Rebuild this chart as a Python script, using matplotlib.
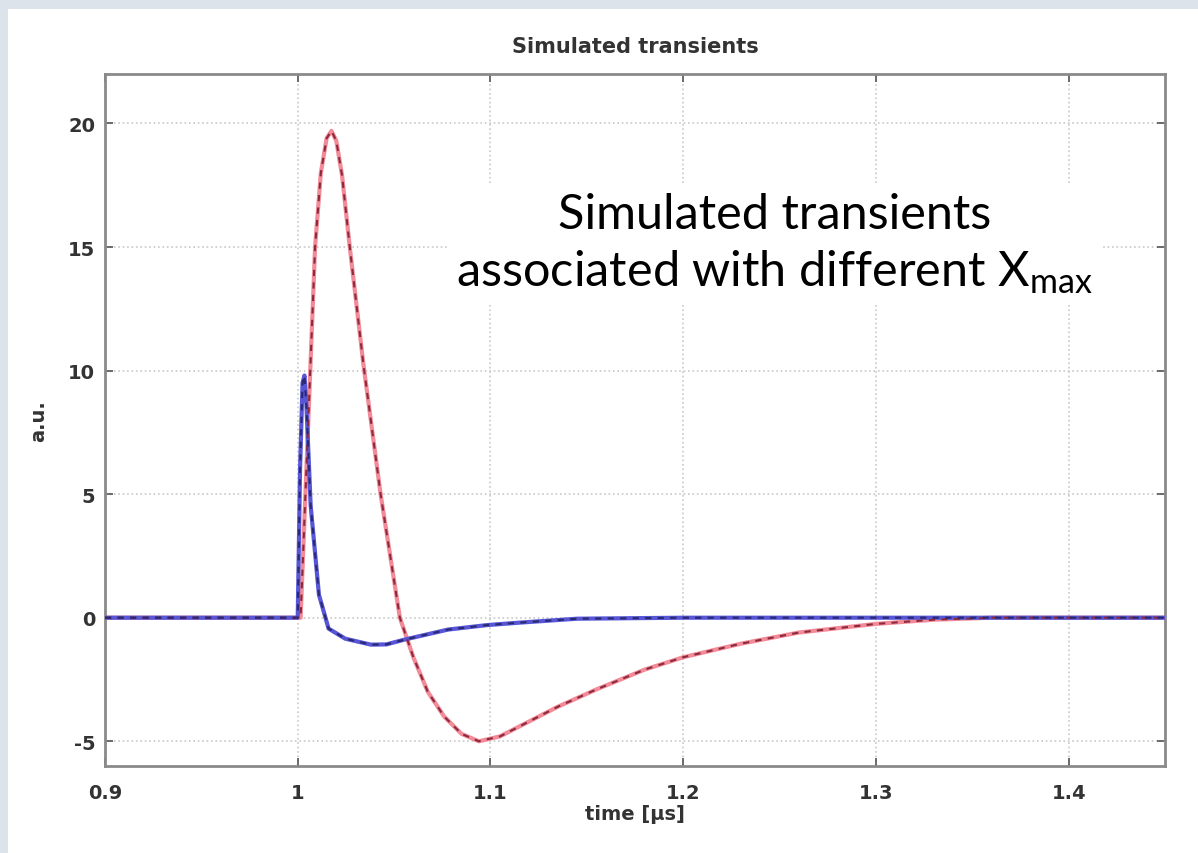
import matplotlib
matplotlib.use("Agg")
import matplotlib.pyplot as plt
from matplotlib.patches import Rectangle

# Transient waveforms (time in microseconds, amplitude in arbitrary units)
t_red = [0.90, 1.000, 1.0015, 1.005, 1.009, 1.012, 1.015, 1.0175, 1.020, 1.023,
         1.027, 1.034, 1.043, 1.053, 1.060, 1.0675, 1.076, 1.085, 1.094, 1.105,
         1.120, 1.135, 1.155, 1.180, 1.200, 1.230, 1.260, 1.300, 1.330, 1.360, 1.450]
v_red = [0.0, 0.0, 0.0, 7.0, 15.0, 18.0, 19.4, 19.7, 19.3, 17.9,
         15.0, 10.3, 5.0, 0.0, -1.6, -3.0, -4.0, -4.7, -5.0, -4.8,
         -4.2, -3.6, -2.9, -2.1, -1.6, -1.05, -0.6, -0.25, -0.08, 0.0, 0.0]

t_blue = [0.90, 1.000, 1.0012, 1.0025, 1.0035, 1.0045, 1.0067, 1.011, 1.016, 1.0247,
          1.038, 1.046, 1.0557, 1.078, 1.098, 1.115, 1.145, 1.200, 1.450]
v_blue = [0.0, 0.0, 6.0, 9.5, 9.8, 8.6, 4.55, 0.93, -0.44, -0.85,
          -1.09, -1.08, -0.88, -0.48, -0.3, -0.2, -0.04, 0.0, 0.0]

x_ticks = [0.9, 1.0, 1.1, 1.2, 1.3, 1.4]
x_tick_labels = ["0.9", "1", "1.1", "1.2", "1.3", "1.4"]
y_ticks = [-5, 0, 5, 10, 15, 20]
y_tick_labels = ["-5", "0", "5", "10", "15", "20"]

plt.rcParams["mathtext.fontset"] = "custom"
plt.rcParams["mathtext.rm"] = "Lato"

fig = plt.figure(figsize=(11.98, 8.54), dpi=100)
fig.patch.set_facecolor("#dde3ea")
# white slide panel
fig.add_artist(Rectangle((8 / 1198, 0), 1 - 8 / 1198, 1 - 10 / 854,
                         transform=fig.transFigure, facecolor="white",
                         edgecolor="none", zorder=0))

ax = fig.add_axes([105 / 1198, 1 - 767 / 854, (1165 - 105) / 1198, (767 - 75) / 854])
ax.set_facecolor("white")

ax.plot(t_red, v_red, color="#f28a98", lw=3.0, solid_joinstyle="round", zorder=3)
ax.plot(t_red, v_red, color="#8a2a3c", lw=1.5, ls=(0, (3, 3)), zorder=4)
ax.plot(t_blue, v_blue, color="#5656d6", lw=3.0, solid_joinstyle="round", zorder=3)
ax.plot(t_blue, v_blue, color="#2a2870", lw=1.5, ls=(0, (3, 3)), zorder=4)

ax.set_xlim(0.9, 1.45)
ax.set_ylim(-6, 22)
ax.set_xticks(x_ticks)
ax.set_xticklabels(x_tick_labels)
ax.set_yticks(y_ticks)
ax.set_yticklabels(y_tick_labels)

ax.grid(True, color="#c8c8c8", ls=":", lw=1.2)
ax.set_axisbelow(True)
ax.tick_params(direction="in", top=True, right=True, length=6, width=1.2,
               colors="#555555", labelcolor="#333333", labelsize=14)
ax.tick_params(axis="x", pad=12)
ax.tick_params(axis="y", pad=7)
for lab in ax.get_xticklabels() + ax.get_yticklabels():
    lab.set_fontweight("bold")
for sp in ax.spines.values():
    sp.set_color("#8a8a8a")
    sp.set_linewidth(2.0)

ax.set_title("Simulated transients", fontsize=15, fontweight="bold",
             color="#333333", pad=16)
ax.set_xlabel("time [μs]", fontsize=14, fontweight="bold", color="#333333", labelpad=2)
ax.set_ylabel("a.u.", fontsize=14, fontweight="bold", color="#333333", labelpad=14)

ax.text(0.632, 0.755,
        "Simulated transients\nassociated with different $\\mathregular{X_{max}}$",
        transform=ax.transAxes, ha="center", va="center", fontsize=35,
        family="Lato", color="black", linespacing=1.3, zorder=10,
        bbox=dict(boxstyle="square,pad=0.2", facecolor="white", edgecolor="none"))

fig.savefig("out.png", dpi=100, facecolor=fig.get_facecolor())
